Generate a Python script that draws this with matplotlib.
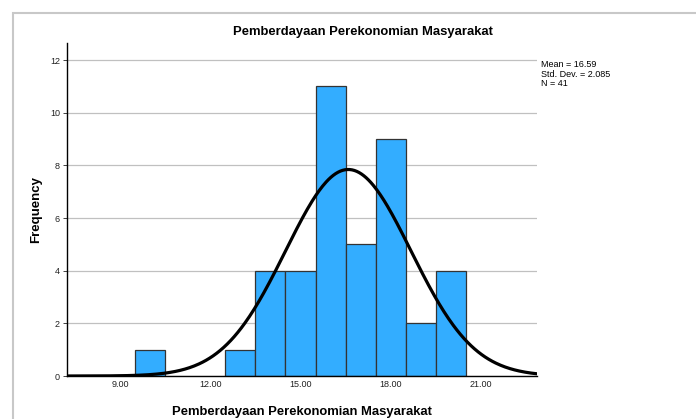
import numpy as np
import matplotlib
matplotlib.use('Agg')
import matplotlib.pyplot as plt
from matplotlib.patches import Rectangle

plt.rcParams['font.family'] = ['Liberation Sans', 'DejaVu Sans']

# histogram data (bin centres, counts)
centres = [10, 13, 14, 15, 16, 17, 18, 19, 20]
counts = [1, 1, 4, 4, 11, 5, 9, 2, 4]
mean = 16.59
sd = 2.085
n = 41
xticks = [9, 12, 15, 18, 21]
yticks = [0, 2, 4, 6, 8, 10, 12]
title = 'Pemberdayaan Perekonomian Masyarakat'

fig = plt.figure(figsize=(6.96, 4.19), dpi=100)

# grey frame of the output window
fig.patches.append(Rectangle((13/696, -0.1), 1.1, 1 - 13/419 + 0.1,
                             transform=fig.transFigure, fill=False,
                             edgecolor='#c8c8c8', linewidth=1.5))

ax = fig.add_axes([67/696, 1 - 376/419, (537 - 67)/696, (376 - 43)/419])

ax.bar(centres, counts, width=1, color='#33adff', edgecolor='#333333',
       linewidth=0.9, zorder=2)

xs = np.linspace(7.23, 22.87, 400)
ys = n * 1.0 * np.exp(-0.5 * ((xs - mean) / sd) ** 2) / (sd * np.sqrt(2 * np.pi))
ax.plot(xs, ys, color='black', linewidth=2.3, zorder=3)

ax.set_xlim(7.23, 22.87)
ax.set_ylim(0, 12.65)
ax.set_xticks(xticks)
ax.set_xticklabels(['%.2f' % v for v in xticks])
ax.set_yticks(yticks)
ax.yaxis.grid(True, color='#c0c0c0', linewidth=0.9, zorder=0)
ax.set_axisbelow(True)
for s in ['top', 'right']:
    ax.spines[s].set_visible(False)
ax.spines['left'].set_linewidth(1.0)
ax.spines['bottom'].set_linewidth(1.0)
ax.tick_params(axis='x', length=0, labelsize=6.5, pad=3, colors='#222222')
ax.tick_params(axis='y', length=3, width=0.6, labelsize=6.5, pad=2, colors='#222222')

ax.set_xlabel(title, fontsize=9.4, fontweight='bold', labelpad=12)
ax.set_ylabel('Frequency', fontsize=9.5, fontweight='bold', labelpad=6)

fig.text(363/696, 1 - 32/419, title, ha='center', va='center',
         fontsize=9.4, fontweight='bold')
fig.text(541/696, 1 - 60/419, 'Mean = 16.59\nStd. Dev. = 2.085\nN = 41',
         ha='left', va='top', fontsize=6.5, linespacing=1.1)

fig.savefig('out.png', dpi=100)
